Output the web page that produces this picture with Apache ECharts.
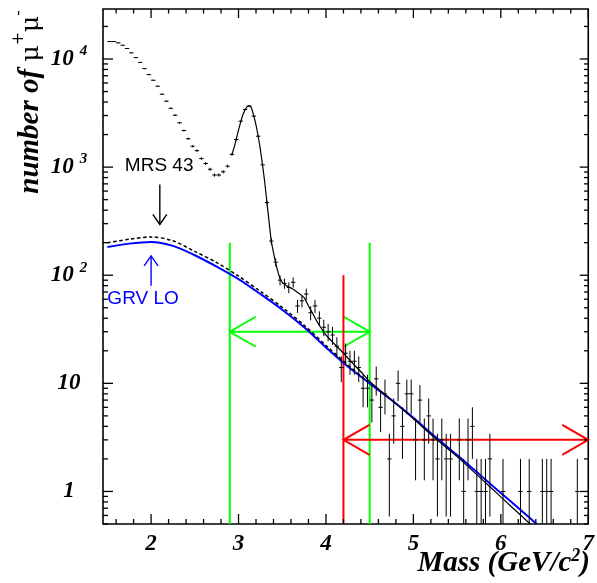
<!DOCTYPE html>
<html>
<head>
<meta charset="utf-8">
<script src="https://cdn.jsdelivr.net/npm/echarts@6/dist/echarts.min.js"></script>
<style>
html, body { margin: 0; padding: 0; background: #fff; }
#chart { width: 597px; height: 583px; }
</style>
</head>
<body>
<div id="chart"></div>
<script>
// Dimuon invariant-mass spectrum: 50 MeV bins (centres in GeV/c^2) and counts per bin
const binMass = [
  1.525, 1.575, 1.625, 1.675, 1.725, 1.775, 1.825, 1.875, 1.925, 1.975,
  2.025, 2.075, 2.125, 2.175, 2.225, 2.275, 2.325, 2.375, 2.425, 2.475,
  2.525, 2.575, 2.625, 2.675, 2.725, 2.775, 2.825, 2.875, 2.925, 2.975,
  3.025, 3.075, 3.125, 3.175, 3.225, 3.275, 3.325, 3.375, 3.425, 3.475,
  3.525, 3.575, 3.625, 3.675, 3.725, 3.775, 3.825, 3.875, 3.925, 3.975,
  4.025, 4.075, 4.125, 4.175, 4.225, 4.275, 4.325, 4.375, 4.425, 4.475,
  4.525, 4.575, 4.625, 4.675, 4.725, 4.775, 4.825, 4.875, 4.925, 4.975,
  5.025, 5.075, 5.125, 5.175, 5.225, 5.275, 5.325, 5.375, 5.425, 5.525,
  5.575, 5.625, 5.675, 5.725, 5.775, 5.825, 5.875, 6.025, 6.225, 6.325,
  6.475, 6.525, 6.575, 6.875
];
const binCounts = [
  14500, 14500, 14100, 13400, 12500, 11400, 10300, 9300, 8150, 7170,
  6360, 5600, 4720, 4070, 3500, 3020, 2570, 2180, 1830, 1560,
  1420, 1200, 1080, 955, 845, 845, 905, 1020, 1310, 1800,
  2660, 3410, 3660, 2960, 1930, 1050, 470, 207, 132, 90,
  84, 77, 86, 52, 58, 67, 45, 52, 40, 33,
  30, 28, 22, 14, 19, 16, 16, 14, 9, 9,
  7, 11, 6, 8, 2, 5, 10, 4, 8, 8,
  3, 7, 3, 5, 3, 2, 3, 2, 2, 3,
  1, 3, 4, 1, 1, 1, 2, 1, 1, 1,
  1, 1, 1, 1
];
const binHalfWidth = 0.025;

// Fitted spectrum (J/psi peak on top of the continuum)
const fitMass = [
  2.925, 2.95, 3.0, 3.05, 3.1, 3.125, 3.15, 3.175, 3.2, 3.225, 3.25, 3.275,
  3.3, 3.325, 3.35, 3.375, 3.4, 3.425, 3.45, 3.475, 3.5, 3.55, 3.6, 3.65,
  3.7, 3.75, 3.8, 3.85, 3.9, 3.95, 4.0, 4.1, 4.2, 4.3, 4.4, 4.5,
  4.75, 5.0, 5.25, 5.5, 5.75, 6.0, 6.25, 6.336
];
const fitCounts = [
  1310, 1520, 2200, 3050, 3650, 3680, 3480, 2960, 2450, 1930, 1450, 1040,
  720, 470, 310, 207, 162, 130, 108, 93, 86, 80, 76, 72,
  67, 62, 52, 44, 37, 32, 28, 23, 19, 15.5, 12.8, 10.4,
  7.0, 4.7, 3.1, 2.1, 1.37, 0.89, 0.58, 0.5
];

// Drell-Yan predictions: MRS 43 and GRV LO parton distributions
const mrsMass = [1.5, 1.75, 2.0, 2.25, 2.5, 2.75, 3.0, 3.25, 3.5, 3.75, 4.0, 4.25, 4.45];
const mrsCounts = [200, 215, 226, 208, 166, 131, 98, 71, 50.5, 34.5, 22.4, 14.8, 10.8];
const grvMass = [1.5, 1.75, 2.0, 2.25, 2.5, 2.75, 3.0, 3.25, 3.5, 3.75, 4.0, 4.25, 4.5, 4.75, 5.0, 5.25, 5.5, 5.75, 6.0, 6.25, 6.41];
const grvCounts = [182, 196, 203, 187, 153, 120, 92, 67, 48, 33, 21.5, 14.3, 10.0, 7.0, 4.8, 3.2, 2.17, 1.45, 0.97, 0.65, 0.5];

// Mass windows: [low edge, high edge, height of the edge line, level of the double arrow]
const greenWindow = [2.9, 4.5, 200, 30];
const redWindow = [4.2, 7.0, 100, 3];

// Labelled pointers: [mass, tail count, tip count]
const mrsPointer = [2.1, 692, 295];
const grvPointer = [2.0, 80, 151];
const mrsLabelAt = [1.7, 1035];
const grvLabelAt = [1.5, 60];

// Axis ranges and tick labels
const xRange = [1.45, 7.0];
const yRange = [0.5, 29000];
const xTickLabels = [2, 3, 4, 5, 6, 7];
const yTickLabels = [1, 10, 100, 1000, 10000];

// Frame ticks on all four sides: [x, y, kind] with kind 0/1 = x minor/major, 2/3 = y minor/major
const frameTicks = [];
for (let i = 8; i <= 35; i++) {
  const v = i / 5;
  if (v <= xRange[0] || v > xRange[1]) continue;
  frameTicks.push([v, yRange[0], Number.isInteger(v) ? 1 : 0]);
}
for (let d = -1; d <= 4; d++) {
  for (let k = 1; k <= 9; k++) {
    const v = k * Math.pow(10, d);
    if (v < yRange[0] || v > yRange[1]) continue;
    frameTicks.push([xRange[0], v, k === 1 ? 3 : 2]);
  }
}

const serifBoldItalic = { fontFamily: 'Liberation Serif', fontWeight: 'bold', fontStyle: 'italic', color: '#000' };

function renderTicks(params, api) {
  const cs = params.coordSys;
  const kind = api.value(2);
  const st = { stroke: '#000', lineWidth: 1.3 };
  if (kind < 2) {
    const px = api.coord([api.value(0), yRange[0]])[0];
    const len = kind === 1 ? 10 : 5;
    const b = cs.y + cs.height, t = cs.y;
    return { type: 'group', children: [
      { type: 'line', shape: { x1: px, y1: b, x2: px, y2: b - len }, style: st },
      { type: 'line', shape: { x1: px, y1: t, x2: px, y2: t + len * 0.9 }, style: st }
    ] };
  }
  const py = api.coord([xRange[0], api.value(1)])[1];
  const len = kind === 3 ? 10 : 5;
  const l = cs.x, r = cs.x + cs.width;
  return { type: 'group', children: [
    { type: 'line', shape: { x1: l, y1: py, x2: l + len, y2: py }, style: st },
    { type: 'line', shape: { x1: r, y1: py, x2: r - len * 0.85, y2: py }, style: st }
  ] };
}

function renderBin(params, api) {
  const m = api.value(0), n = api.value(1);
  const err = Math.sqrt(n);
  const lo = Math.max(n - err, yRange[0]);
  const hi = Math.min(n + err, yRange[1]);
  const c = api.coord([m, n]);
  const l = api.coord([m - binHalfWidth, n]);
  const r = api.coord([m + binHalfWidth, n]);
  const b = api.coord([m, lo]);
  const t = api.coord([m, hi]);
  const st = { stroke: '#000', lineWidth: 1 };
  return { type: 'group', children: [
    { type: 'line', shape: { x1: l[0], y1: c[1], x2: r[0], y2: c[1] }, style: st },
    { type: 'line', shape: { x1: c[0], y1: b[1], x2: c[0], y2: t[1] }, style: st }
  ] };
}

function renderWindow(color) {
  return function (params, api) {
    const lo = api.value(0), hi = api.value(1), top = api.value(2), level = api.value(3);
    const st = { stroke: color, lineWidth: 2 };
    const children = [];
    const edges = hi < xRange[1] ? [lo, hi] : [lo];
    edges.forEach(function (e) {
      const p0 = api.coord([e, yRange[0]]), p1 = api.coord([e, top]);
      children.push({ type: 'line', shape: { x1: p0[0], y1: p0[1], x2: p1[0], y2: p1[1] }, style: st });
    });
    const a = api.coord([lo, level]), b = api.coord([hi, level]);
    const headLen = 26, headHalf = 15;
    children.push({ type: 'line', shape: { x1: a[0], y1: a[1], x2: b[0], y2: b[1] }, style: st });
    children.push({ type: 'polyline', shape: { points: [[a[0] + headLen, a[1] - headHalf], [a[0], a[1]], [a[0] + headLen, a[1] + headHalf]] }, style: Object.assign({ fill: null }, st) });
    children.push({ type: 'polyline', shape: { points: [[b[0] - headLen, b[1] - headHalf], [b[0], b[1]], [b[0] - headLen, b[1] + headHalf]] }, style: Object.assign({ fill: null }, st) });
    return { type: 'group', children: children };
  };
}

function renderPointer(color, text, labelAt) {
  return function (params, api) {
    const m = api.value(0), tail = api.value(1), tip = api.value(2);
    const p0 = api.coord([m, tail]), p1 = api.coord([m, tip]);
    const dir = p1[1] > p0[1] ? 1 : -1;
    const st = { stroke: color, lineWidth: 1.4, fill: null };
    const lab = api.coord(labelAt);
    return { type: 'group', children: [
      { type: 'line', shape: { x1: p0[0], y1: p0[1], x2: p1[0], y2: p1[1] }, style: st },
      { type: 'polyline', shape: { points: [[p1[0] - 7, p1[1] - dir * 10], [p1[0], p1[1]], [p1[0] + 7, p1[1] - dir * 10]] }, style: st },
      { type: 'text', x: lab[0], y: lab[1], style: { text: text, fill: color, fontFamily: 'Liberation Sans', fontSize: 19, align: 'left', verticalAlign: 'middle' } }
    ] };
  };
}

const chart = echarts.init(document.getElementById('chart'), null, { renderer: 'canvas' });
chart.setOption({
  animation: false,
  backgroundColor: '#fff',
  grid: { left: 103, right: 6, top: 9, bottom: 59, show: true, borderColor: '#000', borderWidth: 1.6, backgroundColor: 'transparent' },
  xAxis: {
    type: 'value', min: xRange[0], max: xRange[1],
    axisLine: { show: false }, axisTick: { show: false }, splitLine: { show: false },
    axisLabel: Object.assign({ customValues: xTickLabels, margin: 9, fontSize: 23 }, serifBoldItalic)
  },
  yAxis: {
    type: 'log', logBase: 10, min: yRange[0], max: yRange[1],
    axisLine: { show: false }, axisTick: { show: false }, splitLine: { show: false },
    axisLabel: {
      customValues: yTickLabels, margin: 34, align: 'center',
      formatter: function (v) {
        if (v < 100) return '{b|' + Math.round(v) + '}';
        return '{b|10}{e|' + Math.round(Math.log10(v)) + '}';
      },
      rich: {
        b: Object.assign({ fontSize: 23, lineHeight: 30 }, serifBoldItalic),
        e: Object.assign({ fontSize: 15, lineHeight: 14, verticalAlign: 'top', padding: [0, 0, 0, 6] }, serifBoldItalic)
      }
    }
  },
  graphic: [
    {
      type: 'text', x: 590, y: 564,
      style: {
        text: '{t|Mass (GeV/c}{s|2}{t|)}',
        align: 'right', verticalAlign: 'middle',
        rich: {
          t: Object.assign({ fontSize: 29, lineHeight: 34, fill: '#000' }, serifBoldItalic),
          s: Object.assign({ fontSize: 18, lineHeight: 18, verticalAlign: 'top', fill: '#000' }, serifBoldItalic)
        }
      }
    },
    {
      type: 'text', x: 31, y: 102, rotation: Math.PI / 2,
      style: {
        text: '{n|number of }{m|μ}{s|+}{m|μ}{s|-}',
        align: 'center', verticalAlign: 'middle',
        rich: {
          n: Object.assign({ fontSize: 29, lineHeight: 40, fill: '#000' }, serifBoldItalic),
          m: { fontFamily: 'DejaVu Serif', fontSize: 25, lineHeight: 40, fill: '#000' },
          s: { fontFamily: 'DejaVu Serif', fontSize: 16, lineHeight: 24, verticalAlign: 'top', fill: '#000' }
        }
      }
    }
  ],
  series: [
    {
      name: 'GRV LO', type: 'line', z: 3, silent: true, showSymbol: false, smooth: 0.3,
      data: grvMass.map(function (m, i) { return [m, grvCounts[i]]; }),
      lineStyle: { color: '#0000ff', width: 2 }
    },
    {
      name: 'MRS 43', type: 'line', z: 3, silent: true, showSymbol: false, smooth: 0.3,
      data: mrsMass.map(function (m, i) { return [m, mrsCounts[i]]; }),
      lineStyle: { color: '#000', width: 1.5, type: [3.5, 2.5] }
    },
    {
      name: 'fit', type: 'line', z: 4, silent: true, showSymbol: false, smooth: 0.25,
      data: fitMass.map(function (m, i) { return [m, fitCounts[i]]; }),
      lineStyle: { color: '#000', width: 1.2 }
    },
    {
      name: 'data', type: 'custom', z: 5, silent: true, renderItem: renderBin,
      data: binMass.map(function (m, i) { return [m, binCounts[i]]; })
    },
    {
      name: 'green window', type: 'custom', z: 2, silent: true, renderItem: renderWindow('#00ff00'),
      encode: { x: [0, 1], y: [2, 3] }, data: [greenWindow]
    },
    {
      name: 'red window', type: 'custom', z: 2, silent: true, renderItem: renderWindow('#ff0000'),
      encode: { x: [0, 1], y: [2, 3] }, data: [redWindow]
    },
    {
      name: 'MRS pointer', type: 'custom', z: 6, silent: true, renderItem: renderPointer('#000', 'MRS 43', mrsLabelAt),
      encode: { x: 0, y: [1, 2] }, data: [mrsPointer]
    },
    {
      name: 'GRV pointer', type: 'custom', z: 6, silent: true, renderItem: renderPointer('#0000ff', 'GRV LO', grvLabelAt),
      encode: { x: 0, y: [1, 2] }, data: [grvPointer]
    },
    {
      name: 'frame ticks', type: 'custom', z: 7, silent: true, renderItem: renderTicks,
      data: frameTicks
    }
  ]
});
</script>
</body>
</html>
